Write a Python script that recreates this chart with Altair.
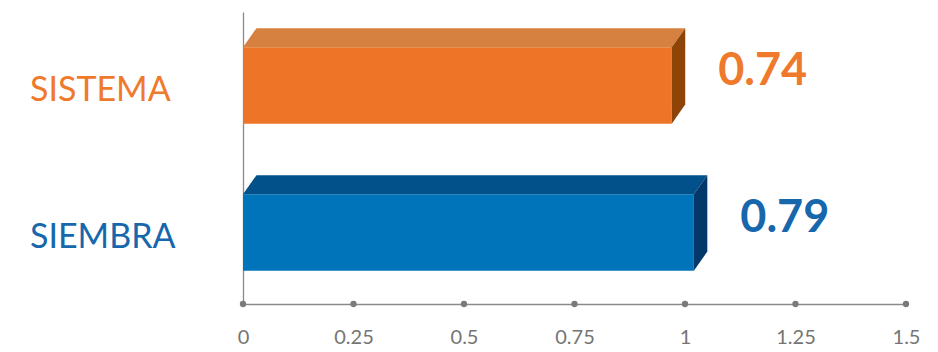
import altair as alt
import pandas as pd

# ---- data ----
categories = ["SISTEMA", "SIEMBRA"]
bar_lengths = [0.97, 1.02]          # front-face extent read against the x axis
value_labels = ["0.74", "0.79"]     # data labels printed next to the bars
x_ticks = [0, 0.25, 0.5, 0.75, 1, 1.25, 1.5]

# ---- styles ----
front_colors = ["#EE7527", "#0074BA"]
top_colors = ["#D6813F", "#02518A"]
side_colors = ["#8F4407", "#02386A"]
label_colors = ["#EF7A2B", "#1767AC"]
HALF = 0.26      # half bar thickness (y units)
DEPTH_X = 0.0305  # 3D depth, x units
DEPTH_Y = 0.13    # 3D depth, y units

front, top, side, labels = [], [], [], []
for i, (cat, L) in enumerate(zip(categories, bar_lengths)):
    c = i + 0.5
    front.append(dict(cat=cat, x0=0, x1=L, y0=c - HALF, y1=c + HALF, fill=front_colors[i]))
    top.append(dict(cat=cat, y=c - HALF, xa=0, xb=L, fill=top_colors[i]))
    top.append(dict(cat=cat, y=c - HALF - DEPTH_Y, xa=DEPTH_X, xb=L + DEPTH_X, fill=top_colors[i]))
    side.append(dict(cat=cat, x=L, ya=c - HALF, yb=c + HALF, fill=side_colors[i]))
    side.append(dict(cat=cat, x=L + DEPTH_X, ya=c - HALF - DEPTH_Y, yb=c + HALF - DEPTH_Y, fill=side_colors[i]))
    labels.append(dict(cat=cat, c=c, xe=L + DEPTH_X, val=value_labels[i], col=label_colors[i]))

front_df = pd.DataFrame(front)
top_df = pd.DataFrame(top)
side_df = pd.DataFrame(side)
lab_df = pd.DataFrame(labels)
tick_df = pd.DataFrame({"t": x_ticks, "yb": [2.0] * len(x_ticks)})

xscale = alt.Scale(domain=[0, 1.5], nice=False, zero=False)
yscale = alt.Scale(domain=[0, 2], reverse=True, nice=False, zero=False)

xaxis = alt.Axis(values=x_ticks, title=None, grid=False, ticks=False,
                 domainColor="#8A8A8A", domainWidth=1.3, offset=-2,
                 labelFont="Lato", labelFontSize=20, labelColor="#757575",
                 labelBaseline="alphabetic", labelPadding=39, labelFlush=False,
                 labelExpr="datum.value == 0 ? '0' : format(datum.value, '.3~f')")
yaxis = alt.Axis(title=None, labels=False, ticks=False, grid=False,
                 domainColor="#8A8A8A", domainWidth=1.3)

front_layer = alt.Chart(front_df).mark_rect().encode(
    x=alt.X("x0:Q", scale=xscale, axis=xaxis),
    x2="x1:Q",
    y=alt.Y("y0:Q", scale=yscale, axis=yaxis),
    y2="y1:Q",
    color=alt.Color("fill:N", scale=None),
)

top_layer = alt.Chart(top_df).mark_area(orient="horizontal").encode(
    y=alt.Y("y:Q", scale=yscale),
    x=alt.X("xa:Q", scale=xscale),
    x2="xb:Q",
    detail="cat:N",
    color=alt.Color("fill:N", scale=None),
)

side_layer = alt.Chart(side_df).mark_area(orient="vertical").encode(
    x=alt.X("x:Q", scale=xscale),
    y=alt.Y("ya:Q", scale=yscale),
    y2="yb:Q",
    detail="cat:N",
    color=alt.Color("fill:N", scale=None),
)

dots = alt.Chart(tick_df).mark_circle(size=40, opacity=1, color="#7A7A7A", yOffset=-2).encode(
    x=alt.X("t:Q", scale=xscale),
    y=alt.Y("yb:Q", scale=yscale),
)

cat_text = alt.Chart(lab_df).mark_text(
    align="left", baseline="middle", font="Lato", fontSize=34, dy=5
).encode(
    x=alt.value(-213),
    y=alt.Y("c:Q", scale=yscale),
    text="cat:N",
    color=alt.Color("col:N", scale=None),
)

val_text = alt.Chart(lab_df).mark_text(
    align="left", baseline="middle", font="Lato", fontSize=45, fontWeight="bold", dx=33, dy=-15
).encode(
    x=alt.X("xe:Q", scale=xscale),
    y=alt.Y("c:Q", scale=yscale),
    text="val:N",
    color=alt.Color("col:N", scale=None),
)

chart = alt.layer(front_layer, top_layer, side_layer, dots, cat_text, val_text).properties(
    width=663, height=294,
    autosize=alt.AutoSizeParams(type="none"),
    padding={"left": 235, "top": 4, "right": 16, "bottom": 42},
).configure_view(stroke=None)

chart.save("out.html", embed_options={"renderer": "svg", "actions": False})
